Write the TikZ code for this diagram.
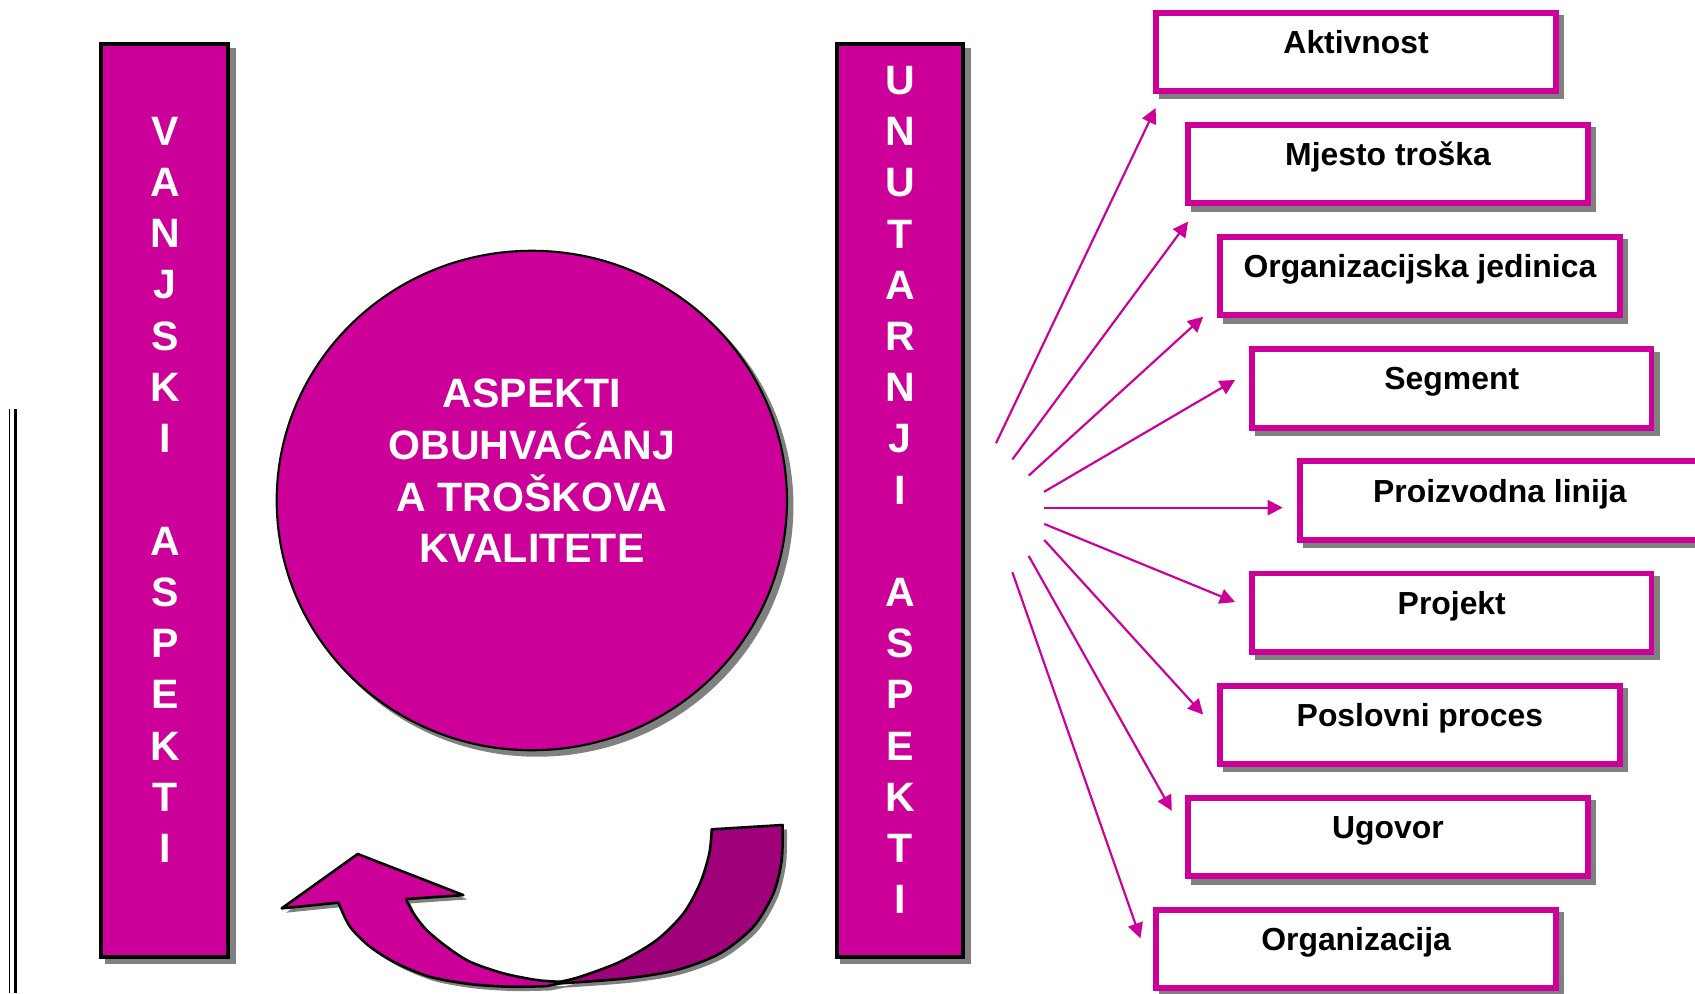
\documentclass[tikz,border=0pt]{standalone}
\usepackage{fontspec}
\setmainfont{Liberation Sans}
\usetikzlibrary{arrows.meta,backgrounds,calc,shapes.geometric}
\definecolor{mag}{HTML}{CC0099}
\definecolor{magdark}{HTML}{A0007A}
\definecolor{shad}{HTML}{808080}
\begin{document}
\begin{tikzpicture}[x=1pt,y=-1pt,
  bar/.style={draw=black, line width=3.7pt, fill=mag, minimum width=117.3pt, minimum height=844.3pt, inner sep=0pt},
  barletter/.style={text=white, font=\fontsize{38}{38}\selectfont\bfseries, inner sep=0pt},
  circtext/.style={text=white, font=\fontsize{38}{48}\selectfont\bfseries, align=center, inner sep=0pt},
  itembox/.style={draw=mag, line width=5.5pt, fill=white, minimum width=369.5pt, minimum height=72.5pt, inner sep=0pt, font=\fontsize{29.5}{30}\selectfont\bfseries, text height=21pt, text depth=18pt},
  fan/.style={draw=mag, line width=2pt, -{Triangle[length=14pt,width=14pt]}},
  rib/.style={draw=black, line width=2.4pt, line join=round},
  shadowfill/.style={fill=shad}
]
\useasboundingbox (0,0) rectangle (1568,919);

% double line at left
\coordinate (dla) at (8.7,378); \coordinate (dlb) at (8.7,919);
\coordinate (dlc) at (14.1,378); \coordinate (dld) at (14.1,919);
\draw[line width=1.6pt] (dla) -- (dlb);
\draw[line width=2.4pt] (dlc) -- (dld);

% bars
\node[bar] (lbar) at (152.5,463) {};
\node[bar] (rbar) at (832.5,463) {};
\foreach \ch/\k in {V/0,A/1,N/2,J/3,S/4,K/5,I/6,A/8,S/9,P/10,E/11,K/12,T/13,I/14}
  \node[barletter] (lv\k) at (152.5,{121.5+47.39*\k}) {\ch};
\foreach \ch/\k in {U/0,N/1,U/2,T/3,A/4,R/5,N/6,J/7,I/8,A/10,S/11,P/12,E/13,K/14,T/15,I/16}
  \node[barletter] (rv\k) at (832.5,{74.5+47.35*\k}) {\ch};

% circle
\node[ellipse, draw=black, line width=2pt, fill=mag, minimum width=472pt, minimum height=462pt, inner sep=0pt] (circ) at (492,463) {};
\node[circtext] (ctext) at (492,435.5) {ASPEKTI\\OBUHVAĆANJ\\A TROŠKOVA\\KVALITETE};

% boxes
\foreach \t/\x/\y [count=\i] in {Aktivnost/1254.5/48,
  Mjesto troška/1284/151.75,
  Organizacijska jedinica/1313.5/255.5,
  Segment/1343/359.25,
  Proizvodna linija/1387.5/463,
  Projekt/1343/566.75,
  Poslovni proces/1313.5/670.5,
  Ugovor/1284/774.25,
  Organizacija/1254.5/878}
  \node[itembox] (box\i) at (\x,\y) {\t};

% fan arrows
\coordinate (s1) at (921.4,410);   \coordinate (e1) at (1069,100);
\coordinate (s2) at (936.5,425);   \coordinate (e2) at (1099,205);
\coordinate (s3) at (951.6,440);   \coordinate (e3) at (1113,293);
\coordinate (s4) at (965.8,455);   \coordinate (e4) at (1142.5,351.5);
\coordinate (s5) at (965.8,469.6); \coordinate (e5) at (1186.6,469.6);
\coordinate (s6) at (966,484.7);   \coordinate (e6) at (1142.5,557);
\coordinate (s7) at (966,499.5);   \coordinate (e7) at (1113,661);
\coordinate (s8) at (951.6,514.2); \coordinate (e8) at (1084,750);
\coordinate (s9) at (936.5,529.3); \coordinate (e9) at (1055,868);
\foreach \i in {1,...,9} \draw[fan] (s\i) -- (e\i);

% curved arrow (shadow)
\begin{scope}[shift={(4,4)}]
\fill[shad] (260.6,840.3) -- (330.9,790) -- (428.6,828) -- (375.6,831.7)
  -- plot[smooth] coordinates {(375.6,831.7) (382.4,844.9) (394.7,860.4) (413.2,875.8) (434.8,889.7) (465.6,900.4) (496.5,906.6) (518,908.2)}
  -- plot[smooth] coordinates {(518,908.2) (536.6,903.6) (573.6,889.7) (607.5,869.6) (632.2,845) (647.6,817.2) (656.2,789.4) (658.4,767.2)}
  -- (724,763.2)
  -- plot[smooth] coordinates {(724,763.2) (723.1,795.6) (715.4,826.4) (696.9,857.3) (666.1,881.9) (626,897.3) (579.7,905) (518,909.7)}
  -- plot[smooth] coordinates {(505.7,912.2) (471.8,912.8) (434.8,910.3) (397.8,903.6) (367,891.2) (342.3,875.8) (323.8,857.3) (313,835)}
  -- cycle;
\end{scope}
% light front part
\filldraw[rib, fill=mag] (260.6,840.3) -- (330.9,790) -- (428.6,828) -- (375.6,831.7)
  -- plot[smooth] coordinates {(375.6,831.7) (382.4,844.9) (394.7,860.4) (413.2,875.8) (434.8,889.7) (465.6,900.4) (496.5,906.6) (518,908.2)}
  -- (518,909.7) -- (505.7,912.2)
  -- plot[smooth] coordinates {(505.7,912.2) (471.8,912.8) (434.8,910.3) (397.8,903.6) (367,891.2) (342.3,875.8) (323.8,857.3) (313,835)}
  -- cycle;
% dark back part
\filldraw[rib, fill=magdark] (518,908.2)
  -- plot[smooth] coordinates {(518,908.2) (536.6,903.6) (573.6,889.7) (607.5,869.6) (632.2,845) (647.6,817.2) (656.2,789.4) (658.4,767.2)}
  -- (724,763.2)
  -- plot[smooth] coordinates {(724,763.2) (723.1,795.6) (715.4,826.4) (696.9,857.3) (666.1,881.9) (626,897.3) (579.7,905) (518,909.7)}
  -- cycle;

% shadows
\begin{scope}[on background layer]
  \fill[shadowfill] ($(lbar.south west)+(5,5)$) rectangle ($(lbar.north east)+(5,5)$);
  \fill[shadowfill] ($(rbar.south west)+(5,5)$) rectangle ($(rbar.north east)+(5,5)$);
  \fill[shadowfill] ($(circ.center)+(5,5)$) ellipse [x radius=237pt, y radius=232pt];
  \foreach \i in {1,...,9}
    \fill[shadowfill] ($(box\i.south west)+(5,5)$) rectangle ($(box\i.north east)+(5,5)$);
\end{scope}
\end{tikzpicture}
\end{document}
